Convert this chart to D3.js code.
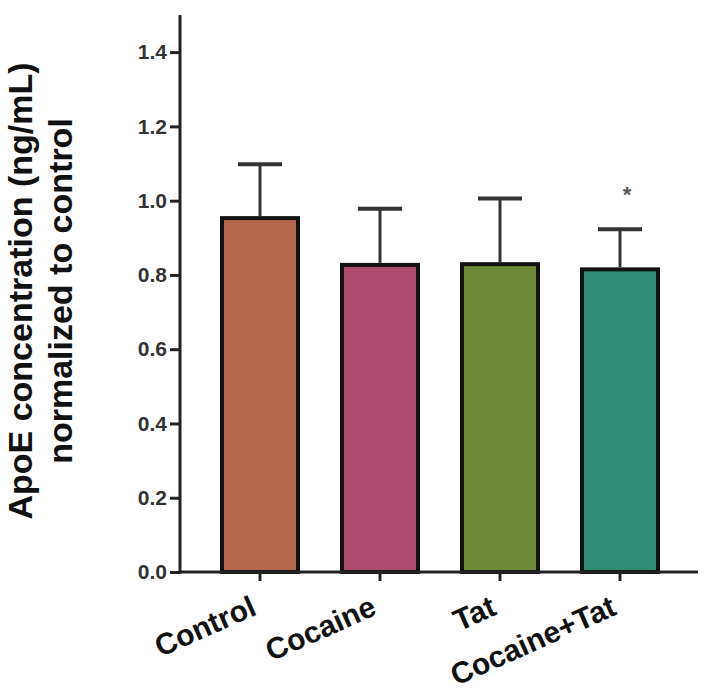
<!DOCTYPE html>
<html>
<head>
<meta charset="utf-8">
<script src="https://cdn.jsdelivr.net/npm/d3@7"></script>
<style>
  html, body { margin: 0; padding: 0; background: #fff; }
  svg { display: block; }
</style>
</head>
<body>
<svg id="chart" width="711" height="690"></svg>
<script>
// ---- data ----
const categories = ["Control", "Cocaine", "Tat", "Cocaine+Tat"];
const means = [0.953, 0.827, 0.829, 0.815];
const sem = [0.145, 0.151, 0.177, 0.108];
const colors = ["#b5674c", "#ac4b6d", "#6f8a36", "#2f8d73"];
const significance = ["", "", "", "*"];
const yTicks = [0.0, 0.2, 0.4, 0.6, 0.8, 1.0, 1.2, 1.4];
const yTitle = ["ApoE concentration (ng/mL)", "normalized to control"];

// ---- layout ----
const svg = d3.select("#chart");
const font = "'Liberation Sans', Arial, Helvetica, sans-serif";
const x0 = 180, yBase = 572, yTop = 15, xEnd = 698;

const y = d3.scaleLinear().domain([0, 1.5]).range([yBase, yTop]);
const x = d3.scaleBand().domain(categories).range([200, 680])
  .paddingInner(1/3).paddingOuter(1/6);

// bars
svg.append("g").selectAll("rect").data(categories).join("rect")
  .attr("x", d => x(d) + 2)
  .attr("width", x.bandwidth() - 4)
  .attr("y", (d, i) => y(means[i]))
  .attr("height", (d, i) => yBase - y(means[i]))
  .attr("fill", (d, i) => colors[i])
  .attr("stroke", "#111")
  .attr("stroke-width", 4);

// error bars
const eg = svg.append("g").attr("stroke", "#333");
categories.forEach((c, i) => {
  const cx = x(c) + x.bandwidth() / 2;
  eg.append("line")
    .attr("x1", cx).attr("x2", cx)
    .attr("y1", y(means[i]) - 2).attr("y2", y(means[i] + sem[i]))
    .attr("stroke-width", 3);
  eg.append("line")
    .attr("x1", cx - 22).attr("x2", cx + 22)
    .attr("y1", y(means[i] + sem[i])).attr("y2", y(means[i] + sem[i]))
    .attr("stroke-width", 4);
  if (significance[i]) {
    svg.append("text")
      .attr("x", cx + 7).attr("y", y(means[i] + sem[i]) - 27)
      .attr("text-anchor", "middle")
      .attr("font-family", font).attr("font-size", 22).attr("font-weight", "bold")
      .attr("fill", "#555")
      .text(significance[i]);
  }
});

// y axis
const yAxis = d3.axisLeft(y).tickValues(yTicks).tickFormat(d3.format(".1f"))
  .tickSize(10).tickPadding(3);
const gy = svg.append("g").attr("transform", `translate(${x0},0)`).call(yAxis);
gy.select(".domain").remove();
gy.selectAll(".tick line").attr("stroke", "#222").attr("stroke-width", 3);
gy.selectAll(".tick text").attr("font-family", font).attr("font-size", 21)
  .attr("font-weight", "bold").attr("fill", "#333");
svg.append("line").attr("x1", x0).attr("x2", x0).attr("y1", yTop).attr("y2", yBase + 1.5)
  .attr("stroke", "#222").attr("stroke-width", 3);

// x axis
const xAxis = d3.axisBottom(x).tickSize(9).tickPadding(0);
const gx = svg.append("g").attr("transform", `translate(0,${yBase})`).call(xAxis);
gx.select(".domain").remove();
gx.selectAll(".tick line").attr("stroke", "#222").attr("stroke-width", 3);
gx.selectAll(".tick text")
  .attr("font-family", font).attr("font-size", 30).attr("font-weight", "bold")
  .attr("fill", "#111")
  .attr("text-anchor", "end")
  .attr("dy", 0).attr("y", 0)
  .attr("transform", "translate(-2,42) rotate(-24)");
svg.append("line").attr("x1", x0 - 1.5).attr("x2", xEnd).attr("y1", yBase).attr("y2", yBase)
  .attr("stroke", "#222").attr("stroke-width", 3);

// y title
const yt = svg.append("text")
  .attr("transform", "translate(32,291) rotate(-90)")
  .attr("text-anchor", "middle")
  .attr("font-family", font).attr("font-size", 34).attr("font-weight", "bold")
  .attr("fill", "#111");
yTitle.forEach((t, i) => {
  yt.append("tspan").attr("x", 0).attr("y", i * 40).text(t);
});
</script>
</body>
</html>
